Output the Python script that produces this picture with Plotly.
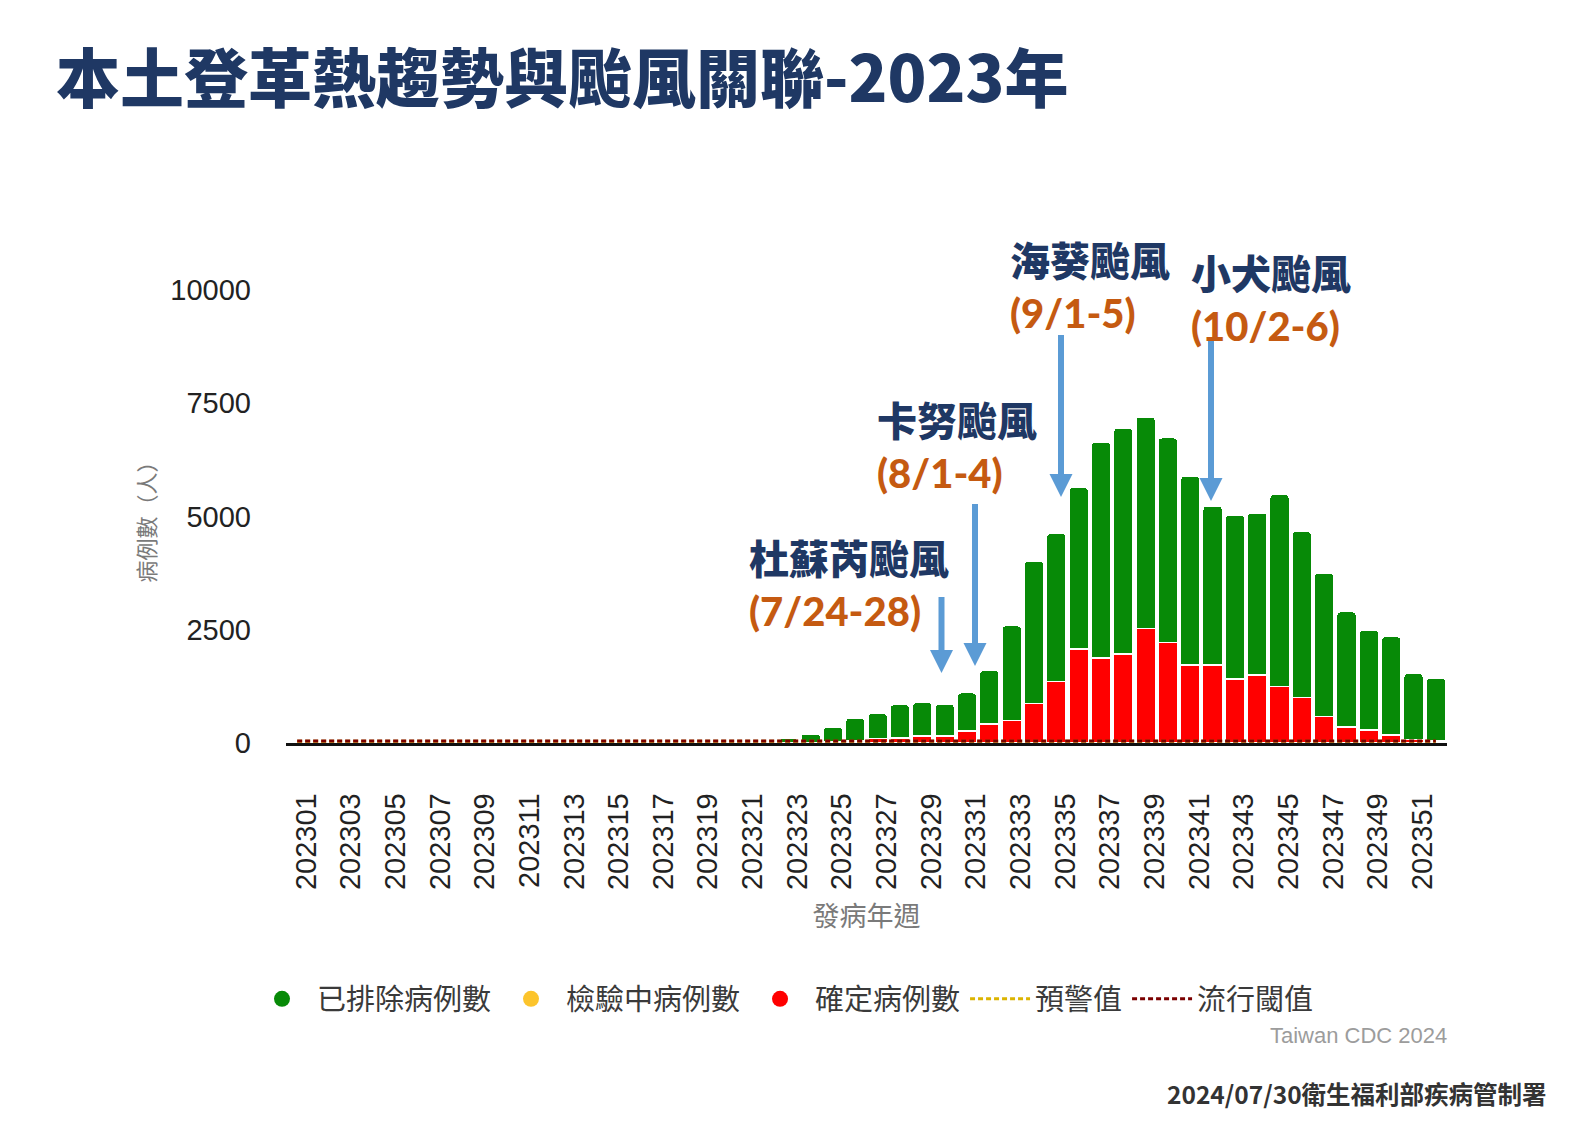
import plotly.graph_objects as go

# ---------------- data ----------------
weeks = ["202301", "202302", "202303", "202304", "202305", "202306", "202307", "202308",
         "202309", "202310", "202311", "202312", "202313", "202314", "202315", "202316",
         "202317", "202318", "202319", "202320", "202321", "202322", "202323", "202324",
         "202325", "202326", "202327", "202328", "202329", "202330", "202331", "202332",
         "202333", "202334", "202335", "202336", "202337", "202338", "202339", "202340",
         "202341", "202342", "202343", "202344", "202345", "202346", "202347", "202348",
         "202349", "202350", "202351", "202352"]

tick_labels = ["202301", "202303", "202305", "202307", "202309", "202311", "202313",
               "202315", "202317", "202319", "202321", "202323", "202325", "202327",
               "202329", "202331", "202333", "202335", "202337", "202339", "202341",
               "202343", "202345", "202347", "202349", "202351"]

# confirmed cases (red)
confirmed = [0, 0, 0, 0, 0, 0, 0, 0, 0, 0, 0, 0, 0, 0, 0, 0, 0, 0, 0, 0, 0, 0,
             5, 10, 20, 40, 100, 110, 150, 150, 260, 420,
             500, 870, 1360, 2080, 1880, 1970, 2530, 2220, 1720, 1720,
             1410, 1500, 1245, 1000, 580, 350, 290, 180, 80, 40]

# pending cases (yellow)
pending = [0, 0, 0, 0, 0, 0, 0, 0, 0, 0, 0, 0, 0, 0, 0, 0, 0, 0, 0, 0, 0, 0,
           0, 0, 0, 0, 0, 0, 0, 0, 0, 0,
           0, 0, 0, 0, 0, 0, 0, 0, 0, 0,
           0, 0, 0, 0, 0, 0, 0, 0, 0, 0]

# excluded cases (green)
excluded = [0, 0, 0, 0, 0, 0, 0, 0, 0, 0, 0, 0, 0, 0, 0, 0, 0, 0, 0, 0, 0, 0,
            95, 190, 330, 510, 550, 740, 750, 710, 850, 1180,
            2090, 3140, 3270, 3560, 4760, 4980, 4670, 4520, 4170, 3510,
            3620, 3580, 4240, 3670, 3170, 2550, 2200, 2170, 1460, 1390]

# warning value and epidemic threshold (dotted lines)
warning = [40, 40, 40, 40, 40, 40, 40, 40, 40, 40, 40, 40, 40, 40, 40, 40, 40, 40, 40, 40,
           40, 40, 40, 40, 40, 40, 40, 40, 40, 40, 40, 40, 40, 40, 40, 40, 40, 40, 40, 40,
           40, 40, 40, 40, 40, 40, 40, 40, 40, 40, 40, 40]
threshold = [45, 45, 45, 45, 45, 45, 45, 45, 45, 45, 45, 45, 45, 45, 45, 45, 45, 45, 45, 45,
             45, 45, 45, 45, 45, 45, 45, 45, 45, 45, 45, 45, 45, 45, 45, 45, 45, 45, 45, 45,
             45, 45, 45, 45, 45, 45, 45, 45, 45, 45, 45, 45]

y_ticks = [0, 2500, 5000, 7500, 10000]

typhoons = ["杜蘇芮颱風", "卡努颱風", "海葵颱風", "小犬颱風"]
typhoon_dates = ["(7/24-28)", "(8/1-4)", "(9/1-5)", "(10/2-6)"]

# ---------------- styling ----------------
GREEN = "#078a07"
YELLOW = "#fcc42c"
RED = "#ff0000"
WARN = "#dcb400"
THRESH = "#7b0000"
NAVY = "#1f3864"
ORANGE = "#c55a11"
ARROW = "#5b9bd5"
CJK = "Noto Sans CJK TC"
LAT = "Liberation Sans, Arial"

W, H = 1587, 1123
PL, PR, PT, PB = 286, 1447, 290, 743


def px_x(px):
    return (px - PL) / (PR - PL)


def px_y(py):
    return (PB - py) / (PB - PT)


fig = go.Figure()

bar_line = dict(color="white", width=1.5)
fig.add_trace(go.Bar(x=weeks, y=confirmed, name="確定病例數", marker=dict(color=RED, line=bar_line),
                     showlegend=False))
fig.add_trace(go.Bar(x=weeks, y=pending, name="檢驗中病例數", marker=dict(color=YELLOW, line=bar_line),
                     showlegend=False))
fig.add_trace(go.Bar(x=weeks, y=excluded, name="已排除病例數", marker=dict(color=GREEN, line=bar_line),
                     showlegend=False))

# legend entries with circle symbols
for nm, col in [("已排除病例數", GREEN), ("檢驗中病例數", YELLOW), ("確定病例數", RED)]:
    fig.add_trace(go.Scatter(x=[None], y=[None], mode="markers", name=nm,
                             marker=dict(symbol="circle", size=22, color=col)))

fig.add_trace(go.Scatter(x=weeks, y=warning, mode="lines", name="預警值",
                         line=dict(color=WARN, width=3, dash="5px,3px")))
fig.add_trace(go.Scatter(x=weeks, y=threshold, mode="lines", name="流行閾值",
                         line=dict(color=THRESH, width=3, dash="5px,3px")))

# ---------------- annotations ----------------
annotations = []
# (left x, centre y of name, centre y of date) in pixels
label_pos = [(747, 557, 611), (875, 419, 473), (1008, 259, 313), (1189, 272, 326)]
for name, date, (x, yn, yd) in zip(typhoons, typhoon_dates, label_pos):
    annotations.append(dict(text=name, x=px_x(x), y=px_y(yn), xref="paper", yref="paper",
                            xanchor="left", yanchor="middle", showarrow=False,
                            font=dict(family=CJK, size=40, color=NAVY, weight=900)))
    annotations.append(dict(text=date, x=px_x(x), y=px_y(yd), xref="paper", yref="paper",
                            xanchor="left", yanchor="middle", showarrow=False,
                            font=dict(family="Lato, " + CJK, size=40, color=ORANGE, weight=900)))

annotations.append(dict(text="Taiwan CDC 2024", x=px_x(1449), y=px_y(1035), xref="paper", yref="paper",
                        xanchor="right", yanchor="middle", showarrow=False,
                        font=dict(family=LAT, size=22, color="#9c9c9c")))
annotations.append(dict(text="2024/07/30衛生福利部疾病管制署", x=px_x(1549), y=px_y(1093),
                        xref="paper", yref="paper", xanchor="right", yanchor="middle", showarrow=False,
                        font=dict(family=CJK, size=24.5, color="#333333", weight=700)))

# arrows (x, top, tip) in pixels
shapes = []
arrows = [(941.5, 597, 673), (975, 504, 666), (1061, 335, 497), (1211, 341, 501)]
HL, HW = 23, 11.5
for x, top, tip in arrows:
    shapes.append(dict(type="line", xref="paper", yref="paper",
                       x0=px_x(x), x1=px_x(x), y0=px_y(top), y1=px_y(tip - HL + 2),
                       line=dict(color=ARROW, width=6)))
    path = "M {},{} L {},{} L {},{} Z".format(px_x(x - HW), px_y(tip - HL), px_x(x + HW), px_y(tip - HL),
                                             px_x(x), px_y(tip))
    shapes.append(dict(type="path", xref="paper", yref="paper", path=path,
                       fillcolor=ARROW, line=dict(color=ARROW, width=0)))

fig.update_layout(
    width=W, height=H, autosize=False,
    margin=dict(l=PL, r=W - PR, t=PT, b=H - PB, pad=0),
    paper_bgcolor="white", plot_bgcolor="white",
    barmode="stack", bargap=0.12, barcornerradius=4,
    title=dict(text="本土登革熱趨勢與颱風關聯-2023年", x=56 / W, xref="container", xanchor="left",
               y=1 - 80 / H, yref="container", yanchor="middle",
               font=dict(family=CJK, size=64, color=NAVY, weight=900)),
    xaxis=dict(type="category", categoryorder="array", categoryarray=weeks,
               range=[-0.5, 51.5], showgrid=False, zeroline=False,
               showline=True, linecolor="#111111", linewidth=2.5,
               ticks="", tickangle=-90, tickmode="array", tickvals=tick_labels, ticktext=tick_labels,
               tickfont=dict(family=LAT, size=29, color="#222222"),
               ticklabelstandoff=36, ticklabelshift=9, automargin=False,
               title=dict(text="發病年週", font=dict(family=CJK, size=27, color="#7a7a7a"), standoff=18)),
    yaxis=dict(range=[0, 10000], tickmode="array", tickvals=y_ticks,
               ticktext=[str(v) for v in y_ticks],
               showgrid=False, zeroline=False, showline=False, ticks="",
               tickfont=dict(family=LAT, size=29, color="#222222"),
               ticklabelstandoff=34, automargin=False,
               title=dict(text="病例數（人）", font=dict(family=CJK, size=22, color="#7a7a7a"), standoff=8)),
    legend=dict(orientation="h", x=px_x(247), xanchor="left", y=px_y(999), yanchor="middle",
                traceorder="normal", itemwidth=60,
                font=dict(family=CJK, size=29, color="#3a3a3a"), bgcolor="rgba(0,0,0,0)"),
    annotations=annotations,
    shapes=shapes,
    hovermode=False,
)

fig.write_html("out.html", config={"displayModeBar": False},
               post_script="document.body.style.margin='0px';")
